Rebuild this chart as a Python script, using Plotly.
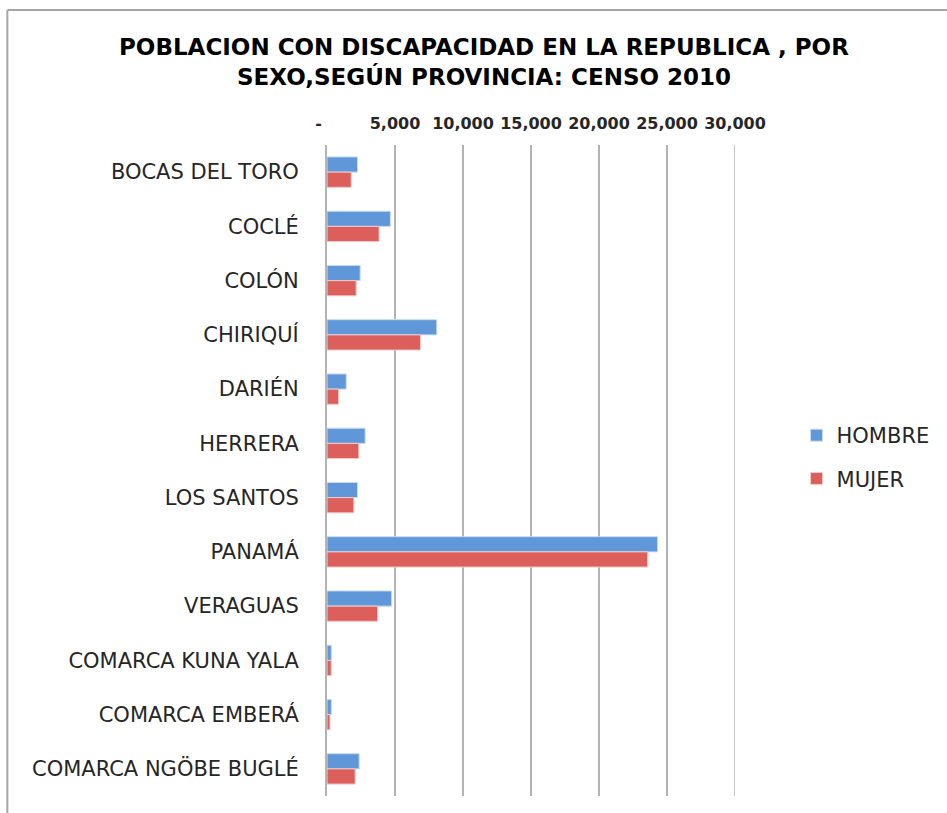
import plotly.graph_objects as go

# Población con discapacidad por provincia y sexo, Censo 2010
provincias = [
    "BOCAS DEL TORO", "COCLÉ", "COLÓN", "CHIRIQUÍ", "DARIÉN", "HERRERA",
    "LOS SANTOS", "PANAMÁ", "VERAGUAS", "COMARCA KUNA YALA",
    "COMARCA EMBERÁ", "COMARCA NGÖBE BUGLÉ",
]
hombre = [2245, 4660, 2440, 8070, 1415, 2805, 2245, 24310, 4755, 320, 320, 2365]
mujer = [1780, 3830, 2145, 6880, 855, 2340, 1975, 23580, 3730, 310, 220, 2070]

tick_vals = [0, 5000, 10000, 15000, 20000, 25000, 30000]
tick_text = ["-   ", "5,000", "10,000", "15,000", "20,000", "25,000", "30,000"]
x_max = 30000

title_lines = [
    "POBLACION CON DISCAPACIDAD EN LA REPUBLICA , POR",
    "SEXO,SEGÚN PROVINCIA: CENSO 2010",
]

W, H = 947, 813
L, R, T, B = 327, 209, 145, 17
FONT = "DejaVu Sans, sans-serif"
GRID = "#b3b3b3"

fig = go.Figure()
fig.add_trace(go.Bar(
    y=provincias, x=hombre, orientation="h", name="HOMBRE",
    marker=dict(color="#5f97d8", line=dict(color="#c9dbf2", width=1)),
    legendgroup="h",
))
fig.add_trace(go.Bar(
    y=provincias, x=mujer, orientation="h", name="MUJER",
    marker=dict(color="#dd5f5c", line=dict(color="#f3caca", width=1)),
    legendgroup="m",
))

pw = W - L - R
ph = H - T - B
# outer chart frame (top and left edges visible)
fx0 = (5 - L) / pw
fy0 = (H - B - 10) / ph
fig.add_shape(type="line", xref="paper", yref="paper",
              x0=fx0, x1=(W + 5 - L) / pw, y0=fy0, y1=fy0,
              line=dict(color="#a6a6a6", width=2))
fig.add_shape(type="line", xref="paper", yref="paper",
              x0=fx0, x1=fx0, y0=fy0, y1=-0.1,
              line=dict(color="#a6a6a6", width=2))
# gridline at the end of the value axis
fig.add_shape(type="line", xref="x", yref="paper",
              x0=x_max, x1=x_max, y0=0, y1=1, layer="below",
              line=dict(color=GRID, width=1.5))

# two-line title
for line, ypx in zip(title_lines, [47, 77]):
    fig.add_annotation(
        text=line, xref="paper", yref="paper",
        x=(485 - L) / pw, y=(H - B - ypx) / ph,
        xanchor="center", yanchor="middle", showarrow=False,
        font=dict(size=23, family=FONT, color="#000000", weight="bold"),
    )

fig.update_layout(
    width=W, height=H,
    margin=dict(l=L, r=R, t=T, b=B, pad=0),
    paper_bgcolor="white", plot_bgcolor="white",
    barmode="group", bargap=0.44, bargroupgap=0,
    font=dict(family=FONT, color="#262626"),
    xaxis=dict(
        side="top", range=[0, x_max], tickvals=tick_vals, ticktext=tick_text,
        showgrid=True, gridcolor=GRID, gridwidth=1.5,
        zeroline=False, showline=False, ticks="",
        ticklabelstandoff=12,
        tickfont=dict(size=16, color="#262626", weight="bold"),
    ),
    yaxis=dict(
        autorange="reversed", showgrid=False, zeroline=False,
        showline=True, linecolor=GRID, linewidth=2,
        ticks="", ticklabelstandoff=22,
        tickfont=dict(size=21, color="#262626"),
    ),
    legend=dict(
        x=(800 - L) / pw, xanchor="left", y=(H - B - 457) / ph, yanchor="middle",
        font=dict(size=21, color="#262626"), tracegroupgap=13,
        itemwidth=30, bgcolor="rgba(0,0,0,0)",
    ),
    showlegend=True,
)

fig.write_html("out.html")
